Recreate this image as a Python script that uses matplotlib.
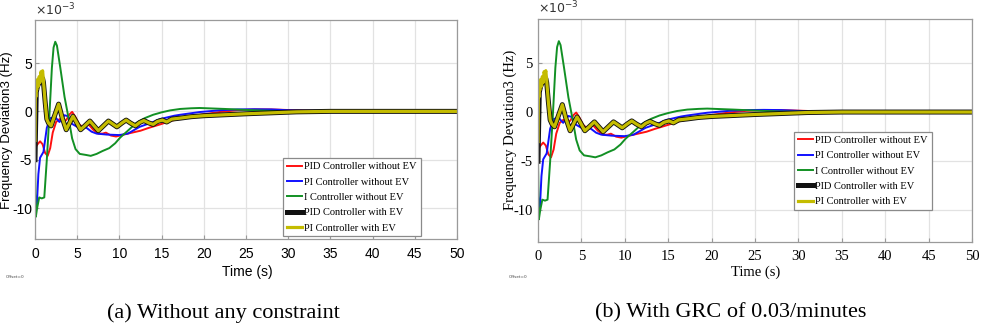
import matplotlib
matplotlib.use("Agg")
import matplotlib.pyplot as plt

plt.rcParams["axes.unicode_minus"] = False

# Frequency deviation values, in units of 1e-3 Hz
t_pid = [0, 0.3, 0.6, 0.9, 1.2, 1.5, 1.8, 2.1, 2.5, 2.9, 3.3, 3.7, 4.1, 4.4, 4.8,
         5.2, 5.6, 6.0, 6.4, 6.9, 7.5, 8.0, 8.4, 9.0, 9.6, 10.5, 11.5, 12.5, 13.5,
         15, 16, 17, 18.5, 20, 22, 24, 26, 28, 30, 33, 36, 50]
f_pid = [-3.8, -3.4, -3.1, -3.4, -4.3, -4.6, -3.8, -2.2, -1.1, -0.8, -1.0, -0.9,
         -0.3, -0.05, -0.6, -1.3, -1.6, -1.5, -1.4, -1.9, -2.3, -2.3, -2.2, -2.5,
         -2.6, -2.4, -2.2, -2.0, -1.7, -1.3, -1.0, -0.8, -0.5, -0.3, -0.05, 0.12,
         0.2, 0.2, 0.14, 0.05, 0.0, 0.0]

t_pi = [0, 0.2, 0.4, 0.6, 1.0, 1.4, 1.8, 2.4, 2.9, 3.5, 3.9, 4.4, 5.0, 5.6, 6.1,
        6.7, 7.3, 8.5, 10, 11, 12.4, 14, 14.8, 16.5, 17.2, 19.5, 22, 24, 26, 28,
        30, 33, 36, 50]
f_pi = [-8.5, -10.0, -6.5, -4.8, -4.2, -1.7, -0.7, -0.6, -1.1, -0.4, -0.5, -1.3,
        -1.6, -1.6, -1.7, -2.1, -2.3, -2.4, -2.45, -2.3, -1.6, -1.1, -0.8, -0.45,
        -0.35, -0.07, 0.12, 0.2, 0.22, 0.2, 0.12, 0.05, 0.0, 0.0]

t_i = [0, 0.1, 0.25, 0.5, 0.8, 1.1, 1.4, 1.7, 2.0, 2.2, 2.4, 2.6, 3.0, 3.5, 4.0,
       4.4, 4.8, 5.3, 6.0, 6.6, 7.3, 8.0, 8.8, 9.5, 10.1, 11, 12, 13, 14, 15, 16,
       17.2, 18.5, 19.5, 21, 22.5, 25, 28, 32, 50]
f_i = [-5.0, -10.9, -10.0, -8.9, -9.0, -8.9, -5.0, -0.5, 4.5, 6.6, 7.2, 6.8, 4.5,
       1.5, -0.8, -2.8, -3.9, -4.4, -4.5, -4.6, -4.4, -4.1, -3.8, -3.3, -2.7,
       -2.0, -1.2, -0.7, -0.35, -0.1, 0.1, 0.25, 0.32, 0.35, 0.3, 0.25, 0.15,
       0.05, 0.0, 0.0]

t_pid_ev = [0, 0.05, 0.15, 0.3, 0.5, 0.7, 0.9, 1.0, 1.2, 1.4, 1.6, 1.9, 2.3, 2.8,
            3.2, 3.7, 4.1, 4.5, 4.9, 5.4, 5.9, 6.5, 7.0, 7.5, 8.1, 8.7, 9.2, 9.7,
            10.3, 10.8, 11.3, 11.9, 12.4, 12.9, 13.5, 14.0, 14.5, 15.1, 15.6,
            16.2, 17.2, 18.5, 20, 22.5, 25, 28, 31, 35, 50]
f_pid_ev = [-5.0, -2.5, 2.0, 2.6, 3.0, 3.4, 3.4, 3.0, 1.0, -0.8, -1.2, -1.5, -0.5,
            0.75, -0.6, -1.9, -1.2, -0.5, -1.1, -1.9, -1.5, -1.0, -1.5, -2.0,
            -1.5, -1.0, -1.3, -1.6, -1.2, -0.9, -1.2, -1.5, -1.15, -0.95, -1.2,
            -1.35, -1.05, -0.9, -1.1, -0.8, -0.7, -0.55, -0.45, -0.35, -0.25,
            -0.15, -0.05, 0.0, 0.0]

t_pi_ev = [0, 0.05, 0.1, 0.15, 0.2, 0.3, 0.4, 0.5, 0.6, 0.7, 0.8, 0.9, 1.0, 1.2,
           1.4, 1.6, 1.9, 2.3, 2.8, 3.2, 3.7, 4.1, 4.5, 4.9, 5.4, 5.9, 6.5, 7.0,
           7.5, 8.1, 8.7, 9.2, 9.7, 10.3, 10.8, 11.3, 11.9, 12.4, 12.9, 13.5,
           14.0, 14.5, 15.1, 15.6, 16.2, 17.2, 18.5, 20, 22.5, 25, 28, 31, 35, 50]
f_pi_ev = [-3.0, 2.5, 1.5, 3.0, 2.2, 3.3, 2.6, 3.6, 3.0, 4.1, 3.8, 4.2, 3.2, 1.0,
           -0.8, -1.2, -1.5, -0.5, 0.75, -0.6, -1.9, -1.2, -0.5, -1.1, -1.9, -1.5,
           -1.0, -1.5, -2.0, -1.5, -1.0, -1.3, -1.6, -1.2, -0.9, -1.2, -1.5, -1.15,
           -0.95, -1.2, -1.35, -1.05, -0.9, -1.1, -0.8, -0.7, -0.55, -0.45, -0.35,
           -0.25, -0.15, -0.05, 0.0, 0.0]

labels = ["PID Controller without EV", "PI Controller without EV",
          "I Controller without EV", "PID Controller with EV",
          "PI Controller with EV"]
captions = ["(a) Without any constraint", "(b) With GRC of 0.03/minutes"]
x_ticks = list(range(0, 51, 5))
y_ticks = [-10, -5, 0, 5]


def draw_panel(fig, rect, font, legend_box, caption, caption_x, xlabel_x,
               ylabel_x, ypad, fsize, ysize):
    ax = fig.add_axes(rect)
    ax.plot(t_pid, f_pid, color="#ff1010", lw=1.4, label=labels[0])
    ax.plot(t_pi, f_pi, color="#1010ff", lw=1.4, label=labels[1])
    ax.plot(t_i, f_i, color="#129024", lw=1.4, label=labels[2])
    ax.plot(t_pid_ev, f_pid_ev, color="#111111", lw=3.6, label=labels[3])
    ax.plot(t_pi_ev, f_pi_ev, color="#c4bc00", lw=2.3, label=labels[4])

    ax.set_xlim(0, 50)
    ax.set_ylim(-13.2, 9.45)
    ax.set_xticks(x_ticks)
    ax.set_yticks(y_ticks)
    ax.grid(True, color="#e2e2e2", lw=0.9)
    ax.set_axisbelow(True)
    for sp in ax.spines.values():
        sp.set_color("#9a9a9a")
        sp.set_linewidth(0.9)
    ax.tick_params(direction="in", length=3, color="#9a9a9a", labelsize=fsize)
    ax.tick_params(axis="x", pad=6)
    ax.tick_params(axis="y", pad=ypad)
    for lab in ax.get_xticklabels() + ax.get_yticklabels():
        lab.set_family(font)

    fig.text(ylabel_x, 1 - 130 / 329, "Frequency Deviation3 (Hz)", family=font,
             fontsize=ysize, rotation=90, ha="center", va="center")
    fig.text(xlabel_x, 1 - 272 / 329, "Time (s)", family=font, fontsize=fsize,
             ha="center", va="center")
    ax.text(0.0, 1.01, r"$\times10^{-3}$", transform=ax.transAxes,
            family=font, fontsize=9, ha="left", va="bottom", color="#333333")

    leg = ax.legend(loc="lower left", bbox_to_anchor=legend_box,
                    prop={"family": "Liberation Serif", "size": 7.5},
                    frameon=True, fancybox=False, edgecolor="#8a8a8a",
                    framealpha=1, handlelength=1.5, handletextpad=0.2,
                    borderpad=0.35, labelspacing=0.58, borderaxespad=0)
    leg.get_frame().set_linewidth(0.9)

    fig.text(rect[0] - 0.03, 1 - 277 / 329, "Offset=0", fontsize=3,
             family="DejaVu Sans", color="#444444", ha="left", va="center")
    fig.text(caption_x, 1 - 313 / 329, caption,
             family="Liberation Serif", fontsize=16, ha="center", va="center")
    return ax


fig = plt.figure(figsize=(9.82, 3.29), dpi=100)
draw_panel(fig, [35 / 982, 1 - 239 / 329, 422 / 982, 219 / 329],
           "Liberation Sans", (0.588, 0.012), captions[0], 223 / 982,
           247 / 982, 7 / 982, 2, 10, 9.5)
draw_panel(fig, [538 / 982, 1 - 242 / 329, 434 / 982, 223 / 329],
           "Liberation Serif", (0.59, 0.143), captions[1], 731 / 982,
           756 / 982, 510 / 982, 4, 10.5, 10.5)

fig.savefig("out.png", dpi=100)
